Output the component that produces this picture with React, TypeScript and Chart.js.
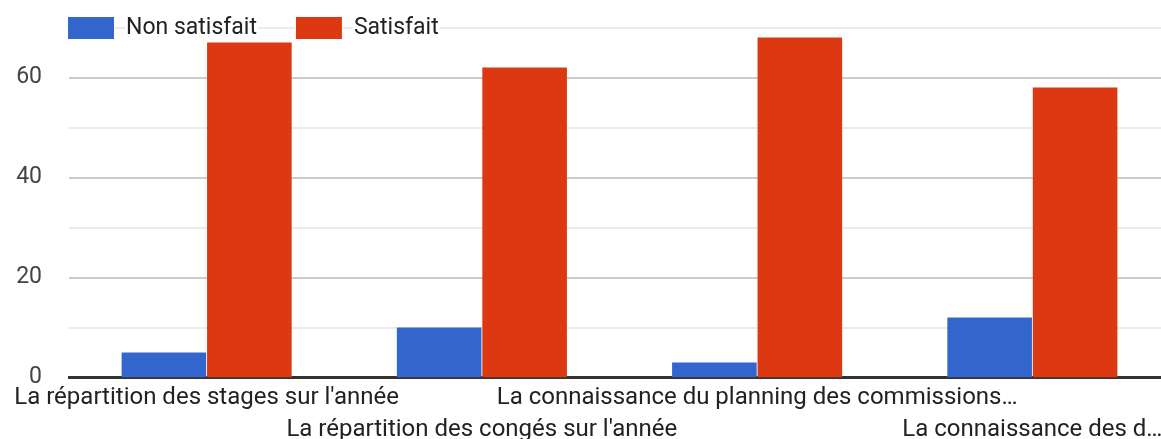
import { useEffect, useRef } from "react";
import { Chart, registerables } from "chart.js";

Chart.register(...registerables);

const categories = [
  "La répartition des stages sur l'année",
  "La répartition des congés sur l'année",
  "La connaissance du planning des commissions…",
  "La connaissance des d…",
];
const seriesNames = ["Non satisfait", "Satisfait"];
const nonSatisfait = [5, 10, 3, 12];
const satisfait = [67, 62, 68, 58];
const seriesColors = ["#3366cc", "#dc3912"];
const yMax = 70;
const yStep = 10;
const yLabelStep = 20;

const FONT = "Roboto";

const legendPlugin = {
  id: "gLegend",
  afterDraw(chart: any) {
    const ctx = chart.ctx;
    ctx.save();
    ctx.font = `23px ${FONT}`;
    ctx.textBaseline = "middle";
    ctx.textAlign = "left";
    let x = 68;
    const top = 17;
    const h = 22;
    const cy = 28;
    chart.data.datasets.forEach((ds: any) => {
      ctx.fillStyle = "#ffffff";
      ctx.fillRect(x - 1, top - 1, 48, h + 2);
      ctx.fillStyle = ds.backgroundColor;
      ctx.fillRect(x, top, 46, h);
      const tx = x + 58;
      const w = ctx.measureText(ds.label).width;
      ctx.fillStyle = "#ffffff";
      ctx.fillRect(tx - 1, top, w + 2, h + 1);
      ctx.fillStyle = "#222222";
      ctx.fillText(ds.label, tx, cy);
      x = tx + w + 39;
    });
    ctx.restore();
  },
};

export default function App() {
  const ref = useRef<HTMLCanvasElement>(null);
  useEffect(() => {
    if (!ref.current) return;
    const labels = categories.map((c, i) => (i % 2 === 0 ? [c, ""] : ["", c]));
    const chart = new Chart(ref.current, {
      type: "bar",
      data: {
        labels,
        datasets: [
          {
            label: seriesNames[0],
            data: nonSatisfait,
            backgroundColor: seriesColors[0],
            barPercentage: 0.99,
            categoryPercentage: 0.621,
          },
          {
            label: seriesNames[1],
            data: satisfait,
            backgroundColor: seriesColors[1],
            barPercentage: 0.99,
            categoryPercentage: 0.621,
          },
        ],
      },
      options: {
        animation: false,
        responsive: false,
        maintainAspectRatio: false,
        layout: { padding: { top: 27.5, left: 0, right: 0, bottom: 0 } },
        plugins: {
          legend: { display: false },
          tooltip: { enabled: false },
        },
        scales: {
          x: {
            grid: { display: false, drawTicks: false },
            border: { display: true, color: "#333333", width: 3 },
            ticks: {
              autoSkip: false,
              maxRotation: 0,
              minRotation: 0,
              padding: 4,
              color: "#222222",
              font: { family: FONT, size: 24, lineHeight: "32px" },
            },
            afterFit: (scale: any) => {
              scale.height = 61.5;
              scale.paddingLeft = 0;
              scale.paddingRight = 0;
            },
          },
          y: {
            min: 0,
            max: yMax,
            grid: {
              drawTicks: false,
              lineWidth: (ctx: any) => (ctx.tick && ctx.tick.value === 0 ? 0 : 2),
              color: (ctx: any) =>
                ctx.tick && ctx.tick.value % yLabelStep === 0 ? "#cccccc" : "#ebebeb",
            },
            border: { display: false },
            ticks: {
              stepSize: yStep,
              padding: 27,
              color: "#444444",
              font: { family: FONT, size: 23 },
              callback: (v: any) => (Number(v) % yLabelStep === 0 ? String(v) : ""),
            },
            afterFit: (scale: any) => {
              scale.width = 69;
              scale.paddingTop = 0;
              scale.paddingBottom = 0;
            },
          },
        },
      },
      plugins: [legendPlugin],
    });
    return () => chart.destroy();
  }, []);
  return (
    <div style={{ position: "fixed", left: 0, top: 0, width: 1170, height: 439, background: "#fff" }}>
      <canvas ref={ref} width={1170} height={439} style={{ width: 1170, height: 439, display: "block" }} />
    </div>
  );
}
